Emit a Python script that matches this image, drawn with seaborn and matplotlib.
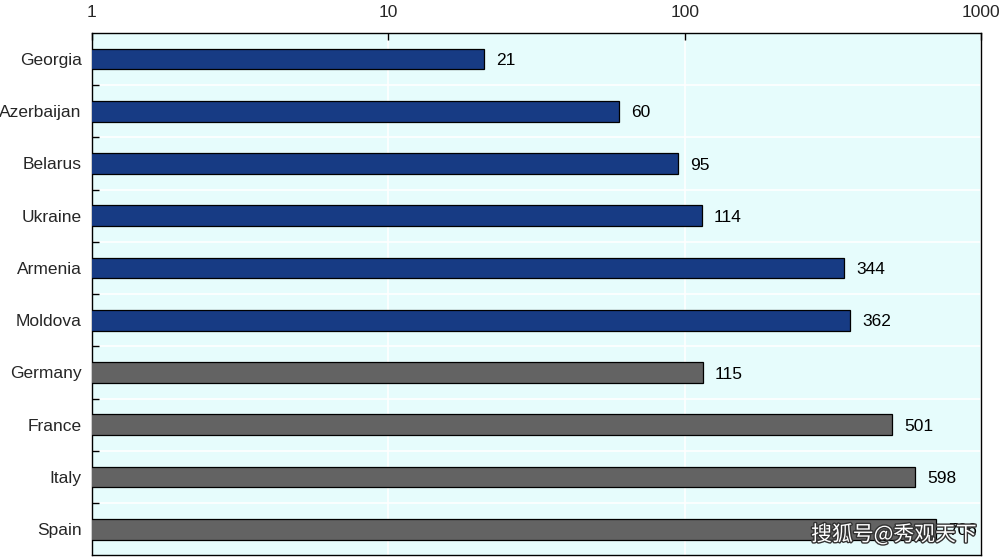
import numpy as np
import pandas as pd
import matplotlib
matplotlib.use("Agg")
import matplotlib.pyplot as plt
import matplotlib.patheffects as pe
from matplotlib.ticker import FixedLocator, NullFormatter
import seaborn as sns

countries = ["Georgia", "Azerbaijan", "Belarus", "Ukraine", "Armenia",
             "Moldova", "Germany", "France", "Italy", "Spain"]
values = [21, 60, 95, 114, 344, 362, 115, 501, 598, 706]
groups = ["EaP"] * 6 + ["EU"] * 4
xticks = [1, 10, 100, 1000]

BLUE = "#173B84"
GREY = "#636363"
BG = "#E6FCFC"

sns.set_theme(style="white")
plt.rcParams["font.family"] = ["Liberation Sans", "DejaVu Sans"]

df = pd.DataFrame({"country": countries, "value": values, "group": groups})

fig = plt.figure(figsize=(10, 5.57), dpi=100)
ax = fig.add_axes([0.092, 0.003, 0.889, 0.938])
ax.set_facecolor(BG)

sns.barplot(data=df, x="value", y="country", hue="group",
            palette={"EaP": BLUE, "EU": GREY}, dodge=False, width=0.4,
            saturation=1, edgecolor="black", linewidth=0.9, legend=False,
            ax=ax, zorder=3)

ax.set_xscale("log")
ax.set_xlim(1, 1000)
ax.set_ylim(len(countries) - 0.5, -0.5)

ax.xaxis.tick_top()
ax.xaxis.set_major_locator(FixedLocator(xticks))
ax.xaxis.set_minor_locator(FixedLocator([]))
ax.set_xticklabels([str(t) for t in xticks], fontsize=12.5)
ax.tick_params(axis="x", which="major", direction="in", length=5, width=1,
               color="black", pad=9, top=True, bottom=False)

ax.yaxis.set_minor_locator(FixedLocator(np.arange(0.5, len(countries) - 0.5, 1)))
ax.yaxis.set_minor_formatter(NullFormatter())
ax.tick_params(axis="y", which="major", length=0, labelsize=12.5, pad=7.5)
ax.tick_params(axis="y", which="minor", direction="in", length=5, width=1,
               color="black", left=True)

ax.grid(False)
ax.grid(True, axis="x", which="major", color="white", linewidth=1.2, zorder=0)
ax.grid(True, axis="y", which="minor", color="white", linewidth=1.2, zorder=0)
ax.set_axisbelow(True)

for s in ax.spines.values():
    s.set_visible(True)
    s.set_color("black")
    s.set_linewidth(1)

ax.set_xlabel("")
ax.set_ylabel("")

for i, v in enumerate(values):
    ax.text(v * 1.1, i + 0.03, str(v), va="center", ha="left", fontsize=12.5,
            color="black", zorder=4)

fig.text(0.977, 0.04, "搜狐号@秀观天下", ha="right", va="center", fontsize=15,
         color="white", family=["Noto Sans CJK SC", "DejaVu Sans"],
         path_effects=[pe.withStroke(linewidth=2, foreground="#333333")], zorder=10)

fig.savefig("out.png", dpi=100)
